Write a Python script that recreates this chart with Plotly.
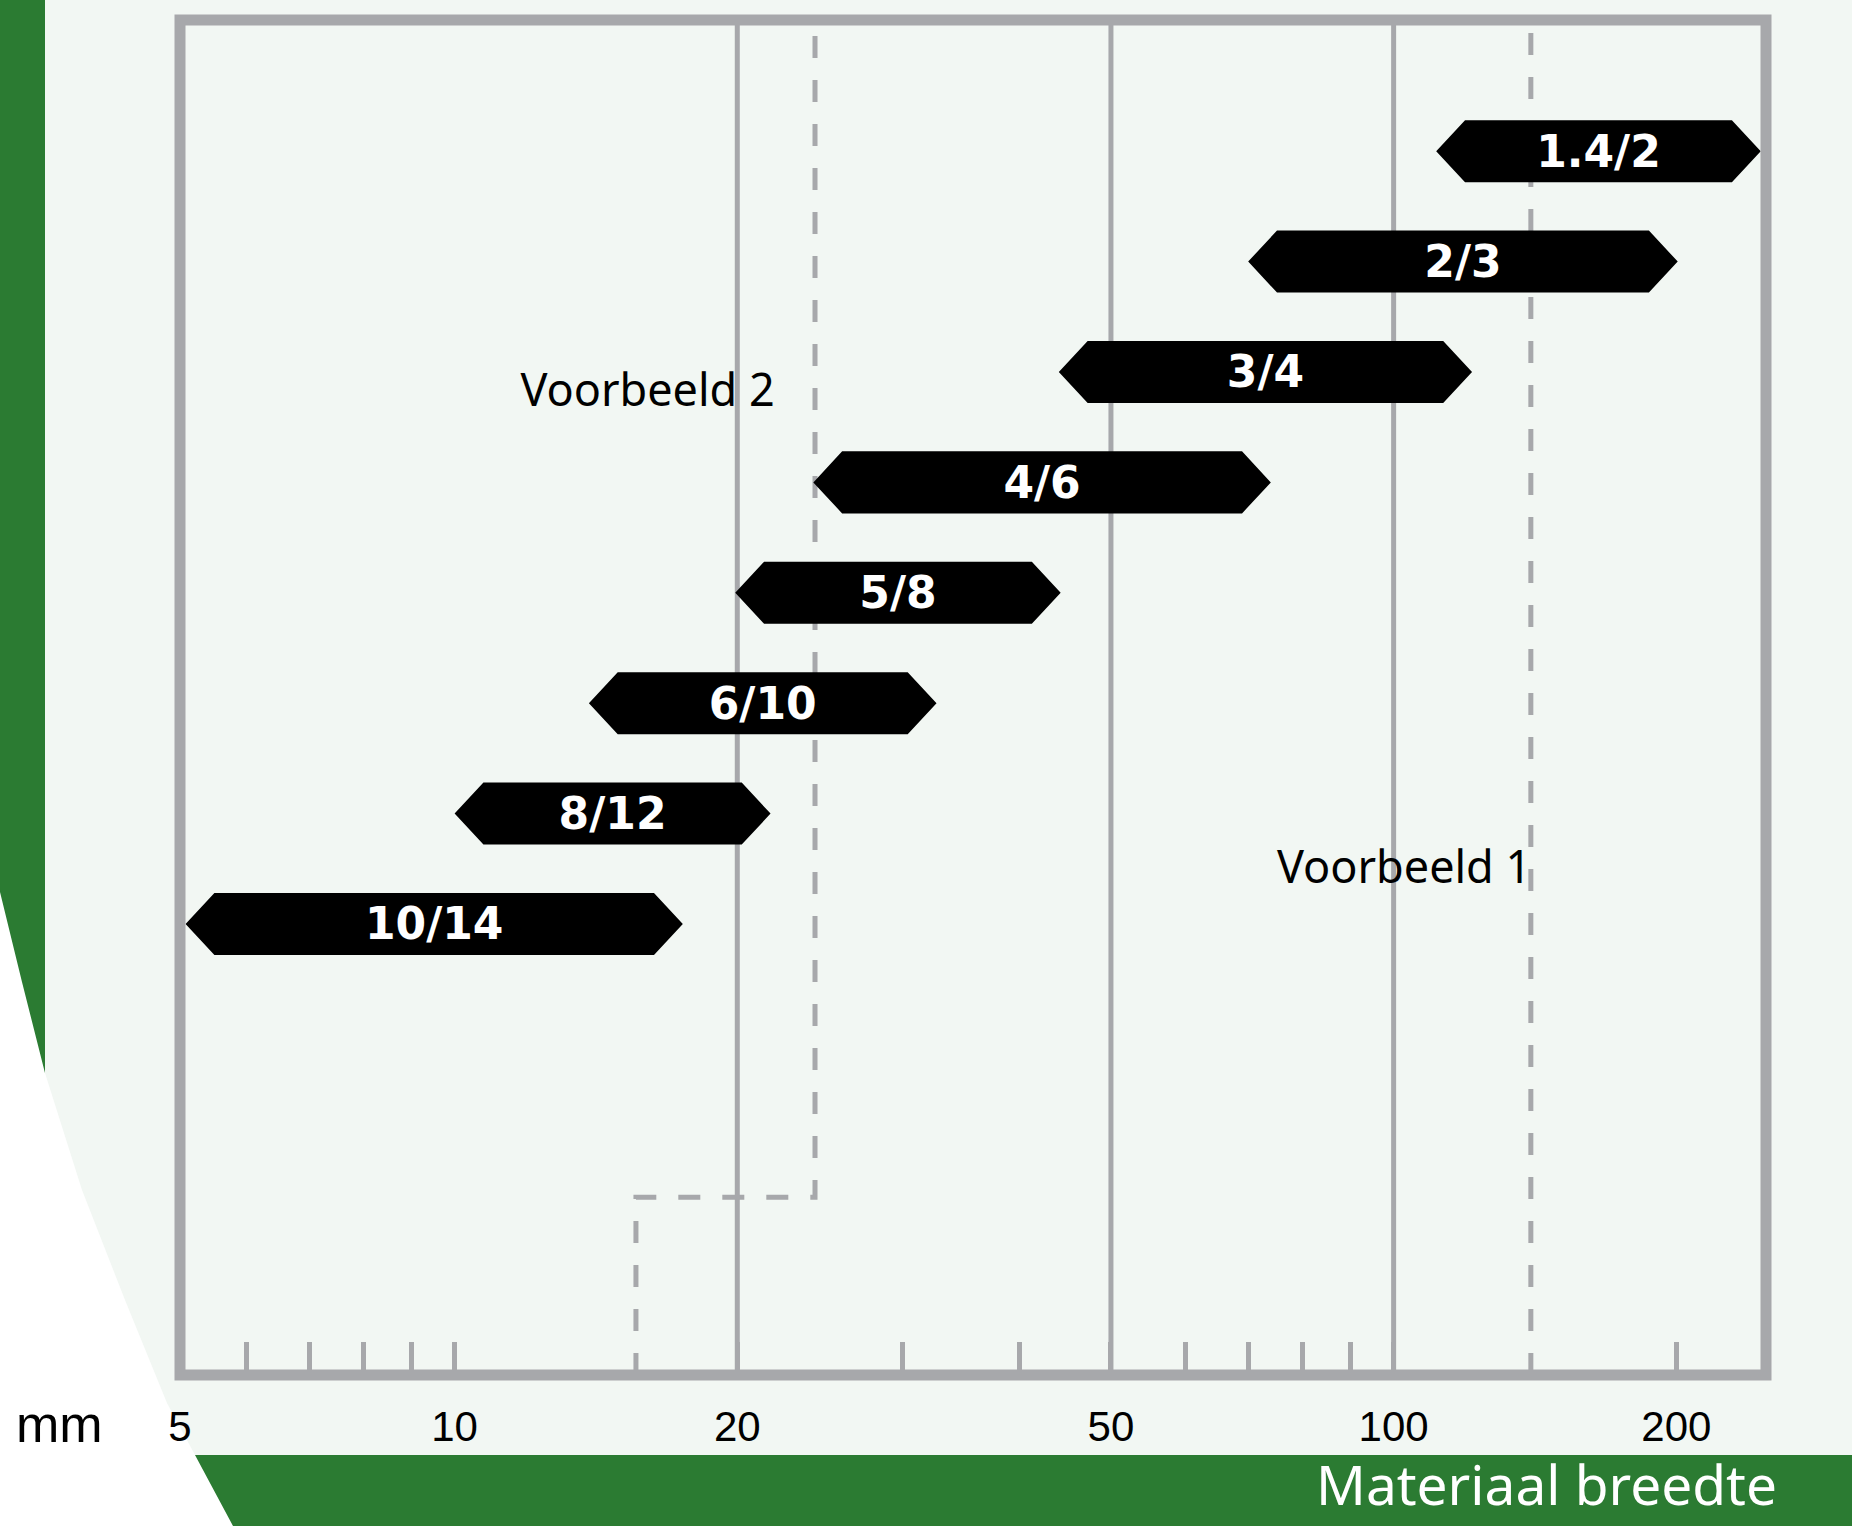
import math
import plotly.graph_objects as go

# ---------------- data ----------------
mesh_labels = ["1.4/2", "2/3", "3/4", "4/6", "5/8", "6/10", "8/12", "10/14"]
width_min = [111, 70, 44, 24.1, 19.9, 13.9, 10.0, 5.17]      # mm, left tip
width_max = [246, 200.7, 121.2, 74, 44.2, 32.6, 21.7, 17.5]  # mm, right tip

tick_values = [5, 10, 20, 50, 100, 200]
tick_labels = ["5", "10", "20", "50", "100", "200"]
minor_tick_values = [6, 7, 8, 9, 30, 40, 60, 70, 80, 90]
grid_values = [20, 50, 100]

example1_width = [140]
example2_widths = [15.6, 24.2]
example_labels = ["Voorbeeld 1", "Voorbeeld 2"]

# ---------------- styling ----------------
W, H = 1852, 1526
ML, MR, MT, MB = 180, 86, 20, 151
GREEN = "#2b7b32"
BG = "#f2f7f3"
GRAY = "#a7a8ab"
X_MIN, X_MAX = 5.1, 249.2
Y_TOP, Y_BOT = -1.188, 11.085
HALF_H = 0.281
TIP = 10 ** 0.0307
TEXT_DY = 0.04

pw, ph = W - ML - MR, H - MT - MB


def px(x):
    return (x - ML) / pw


def py(y):
    return (H - MB - y) / ph


fig = go.Figure()

# grid lines
for g in grid_values:
    fig.add_trace(go.Scatter(x=[g, g], y=[Y_BOT, Y_TOP], mode="lines",
                             line=dict(color=GRAY, width=5), hoverinfo="skip"))

# example dashed lines
dash = "22px,22px"
fig.add_trace(go.Scatter(x=[example1_width[0]] * 2, y=[Y_BOT, Y_TOP], mode="lines",
                         line=dict(color=GRAY, width=5, dash=dash), hoverinfo="skip"))
step_y = 9.476
fig.add_trace(go.Scatter(x=[example2_widths[0], example2_widths[0], example2_widths[1], example2_widths[1]],
                         y=[Y_BOT, step_y, step_y, Y_TOP], mode="lines",
                         line=dict(color=GRAY, width=5, dash=dash), hoverinfo="skip"))

# hexagonal bars
xs, ys = [], []
for i, (s, e) in enumerate(zip(width_min, width_max)):
    xs += [s, s * TIP, e / TIP, e, e / TIP, s * TIP, s, None]
    ys += [i, i - HALF_H, i - HALF_H, i, i + HALF_H, i + HALF_H, i, None]
fig.add_trace(go.Scatter(x=xs, y=ys, mode="lines", fill="toself", fillcolor="black",
                         line=dict(width=0, color="black"), hoverinfo="skip"))

# bar labels
fig.add_trace(go.Scatter(
    x=[math.sqrt(s * e) for s, e in zip(width_min, width_max)],
    y=[i + TEXT_DY for i in range(len(mesh_labels))],
    mode="text", text=mesh_labels, textposition="middle center",
    textfont=dict(family="DejaVu Sans", size=44, color="white", weight="bold"),
    hoverinfo="skip"))

# example labels
fig.add_trace(go.Scatter(
    x=[102.6, 16.05], y=[6.488 + TEXT_DY, 2.163 + TEXT_DY], mode="text", text=example_labels,
    textposition="middle center",
    textfont=dict(family="Noto Sans", size=45, color="black"), hoverinfo="skip"))

shapes = []
# left green strip
shapes.append(dict(type="rect", xref="paper", yref="paper", x0=px(0), x1=px(45),
                   y0=py(1100), y1=py(0), fillcolor=GREEN, line=dict(width=0), layer="below"))
# bottom green band
shapes.append(dict(type="rect", xref="paper", yref="paper", x0=px(0), x1=px(W),
                   y0=py(H), y1=py(1455), fillcolor=GREEN, line=dict(width=0), layer="below"))
# white curved region
curve = [(0, 892), (22, 982), (45, 1073), (82, 1190), (125, 1300), (167, 1403),
         (195, 1455), (233, 1526), (0, 1526)]
path = "M " + " L ".join(f"{px(a):.5f},{py(b):.5f}" for a, b in curve) + " Z"
shapes.append(dict(type="path", xref="paper", yref="paper", path=path,
                   fillcolor="white", line=dict(width=0), layer="below"))
# frame
shapes.append(dict(type="rect", xref="paper", yref="paper", x0=0, x1=1, y0=0, y1=1,
                   line=dict(color=GRAY, width=11), layer="above"))

annotations = [
    dict(text="mm", xref="paper", yref="paper", x=px(59), y=py(1424), showarrow=False,
         xanchor="center", yanchor="middle",
         font=dict(family="Liberation Sans", size=52, color="black")),
    dict(text="Materiaal breedte", xref="paper", yref="paper", x=px(1779), y=py(1483),
         showarrow=False, xanchor="right", yanchor="middle",
         font=dict(family="Noto Sans", size=55, color="white")),
]

shown_ticks = [max(v, X_MIN) for v in tick_values]

fig.update_layout(
    template="none",
    width=W, height=H,
    margin=dict(l=ML, r=MR, t=MT, b=MB, pad=0),
    paper_bgcolor=BG, plot_bgcolor=BG,
    showlegend=False,
    shapes=shapes, annotations=annotations,
    xaxis=dict(type="log", range=[math.log10(X_MIN), math.log10(X_MAX)],
               tickmode="array", tickvals=shown_ticks, ticktext=tick_labels,
               ticks="inside", ticklen=33, tickwidth=5, tickcolor=GRAY,
               tickfont=dict(family="Liberation Sans", size=42, color="black"),
               ticklabelstandoff=23,
               showgrid=False, zeroline=False, showline=False, automargin=False,
               minor=dict(tickmode="array", tickvals=minor_tick_values, ticks="inside",
                          ticklen=33, tickwidth=5, tickcolor=GRAY, showgrid=False)),
    yaxis=dict(range=[Y_BOT, Y_TOP], showticklabels=False, showgrid=False,
               zeroline=False, showline=False, ticks="", automargin=False),
)

fig.write_html("out.html", config={"displayModeBar": False},
               post_script="document.body.style.margin='0';document.body.style.overflow='hidden';")
